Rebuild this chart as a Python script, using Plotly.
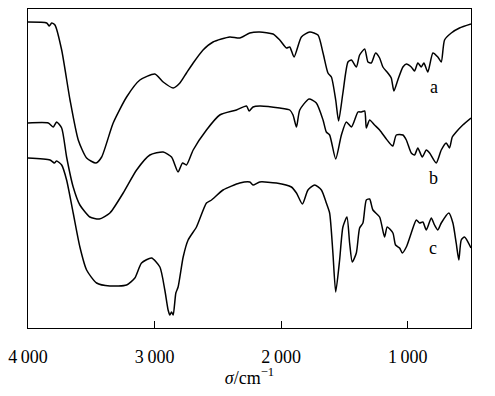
import plotly.graph_objects as go

# Wavenumbers (cm^-1) and relative transmittance (arbitrary units)
wn_a = [4000, 3852, 3832, 3813, 3787, 3734, 3668, 3603, 3537, 3463, 3418, 3327, 3221, 3116, 2998,
        2932, 2853, 2800, 2748, 2695, 2617, 2538, 2406, 2327, 2248, 2169, 2064, 2011, 1958, 1932,
        1898, 1840, 1774, 1709, 1669, 1630, 1603, 1569, 1546, 1512, 1472, 1445, 1406, 1380, 1340,
        1314, 1288, 1254, 1222, 1196, 1157, 1130, 1109, 1078, 1038, 1011, 972, 946, 920, 893, 872,
        841, 801, 762, 735, 709, 656, 591, 500]
t_a = [306, 305, 302, 305, 303, 278, 228, 188, 170, 165, 171, 205, 231, 248, 254,
       246, 240, 245, 255, 265, 278, 286, 291, 290, 295, 296, 294, 288, 280, 281,
       271, 291, 296, 293, 275, 255, 251, 228, 207, 235, 266, 268, 261, 273, 279,
       266, 265, 275, 270, 261, 255, 250, 237, 248, 261, 264, 261, 257, 265, 261, 265,
       256, 275, 271, 266, 288, 295, 300, 304]

wn_b = [4000, 3840, 3800, 3774, 3734, 3695, 3643, 3590, 3511, 3437, 3353, 3248, 3142, 3037, 2932,
        2866, 2814, 2779, 2748, 2695, 2590, 2485, 2353, 2274, 2253, 2222, 2169, 2011, 1932, 1906,
        1879, 1853, 1780, 1722, 1669, 1643, 1617, 1569, 1524, 1485, 1445, 1419, 1393, 1366, 1340,
        1327, 1301, 1262, 1222, 1169, 1130, 1117, 1090, 1038, 1011, 972, 946, 920, 885, 853, 827,
        775, 735, 696, 670, 648, 617, 565, 500]
t_b = [205, 205, 201, 206, 200, 171, 141, 123, 111, 109, 115, 135, 158, 173, 176,
       171, 156, 165, 163, 178, 198, 213, 218, 222, 217, 221, 222, 220, 218, 213,
       201, 218, 229, 225, 208, 196, 193, 169, 193, 206, 201, 208, 216, 216, 217,
       200, 208, 203, 198, 189, 183, 182, 193, 193, 188, 175, 173, 180, 171, 178, 175,
       165, 178, 185, 180, 191, 196, 203, 210]

wn_c = [4000, 3826, 3792, 3774, 3734, 3695, 3643, 3590, 3537, 3458, 3353, 3221, 3156, 3103, 3024,
        2958, 2919, 2893, 2879, 2866, 2853, 2832, 2814, 2774, 2735, 2669, 2590, 2550, 2459, 2327,
        2248, 2222, 2169, 2037, 1919, 1879, 1832, 1788, 1735, 1682, 1643, 1617, 1591, 1569, 1538,
        1512, 1480, 1459, 1438, 1406, 1380, 1354, 1327, 1301, 1275, 1222, 1183, 1162, 1117, 1096,
        1064, 1043, 1011, 972, 932, 906, 880, 853, 814, 788, 762, 735, 675, 643, 617, 596, 577,
        551, 500]
t_c = [170, 168, 165, 167, 163, 148, 115, 81, 58, 45, 42, 43, 50, 65, 70,
       61, 38, 18, 13, 16, 13, 35, 41, 71, 88, 101, 125, 128, 138, 145,
       146, 143, 146, 145, 141, 135, 124, 138, 143, 138, 125, 115, 75, 36, 68,
       101, 111, 85, 66, 75, 100, 105, 128, 129, 118, 111, 91, 101, 95, 83,
       80, 75, 81, 95, 108, 105, 106, 98, 110, 103, 98, 105, 115, 105, 85, 68, 88,
       91, 80]

series_names = ["a", "b", "c"]
label_wn = [790, 800, 800]
label_t = [241, 150, 80]

tick_vals = [4000, 3000, 2000, 1000]
tick_text = ["4\u2009000", "3\u2009000", "2\u2009000", "1\u2009000"]

font_family = "Liberation Serif"

fig = go.Figure()
for wn, t, name in zip([wn_a, wn_b, wn_c], [t_a, t_b, t_c], series_names):
    fig.add_trace(go.Scatter(x=wn, y=t, mode="lines", name=name,
                             line=dict(color="black", width=1.5, shape="spline", smoothing=0.6),
                             showlegend=False, hoverinfo="skip"))

for name, lx, ly in zip(series_names, label_wn, label_t):
    fig.add_annotation(x=lx, y=ly, text=name, showarrow=False,
                       font=dict(family=font_family, size=18, color="black"))

fig.update_layout(
    width=479, height=380,
    margin=dict(l=20, r=16, t=1, b=60),
    paper_bgcolor="white", plot_bgcolor="white",
    font=dict(family=font_family, size=18, color="black"),
)
fig.update_xaxes(range=[4000, 500], tickvals=tick_vals, ticktext=tick_text,
                 ticks="inside", ticklen=7, tickwidth=1.3, tickcolor="black",
                 ticklabelstandoff=12,
                 showline=True, linecolor="black", linewidth=1.4, mirror=True,
                 showgrid=False, zeroline=False,
                 tickfont=dict(family=font_family, size=18, color="black"),
                 title=dict(text="<i>σ</i>/cm<sup>−1</sup>", standoff=6,
                            font=dict(family=font_family, size=18, color="black")))
fig.update_yaxes(range=[0, 319], showticklabels=False, ticks="",
                 showline=True, linecolor="black", linewidth=1.4, mirror=True,
                 showgrid=False, zeroline=False)

fig.write_html("out.html")
